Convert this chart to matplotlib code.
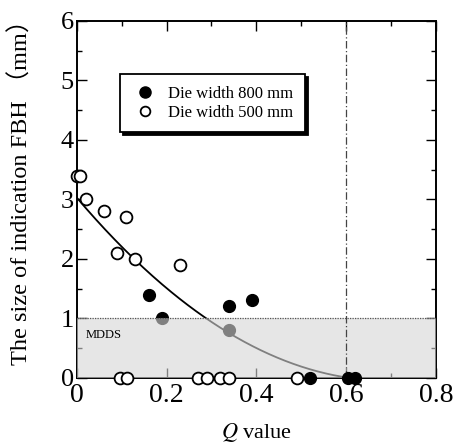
import numpy as np
import matplotlib.pyplot as plt
from matplotlib.ticker import MultipleLocator

plt.rcParams['font.family'] = ['Liberation Serif', 'Noto Sans CJK JP']
plt.rcParams['mathtext.fontset'] = 'stix'

# Die width 800 mm (filled symbols)
q_800 = [0.16, 0.19, 0.34, 0.34, 0.39, 0.52, 0.605, 0.62]
fbh_800 = [1.4, 1.0, 1.2, 0.8, 1.3, 0.0, 0.0, 0.0]

# Die width 500 mm (open symbols)
q_500 = [0.0, 0.008, 0.02, 0.06, 0.11, 0.09, 0.13, 0.23,
         0.096, 0.111, 0.27, 0.29, 0.32, 0.34, 0.49]
fbh_500 = [3.4, 3.4, 3.0, 2.8, 2.7, 2.1, 2.0, 1.9,
           0.0, 0.0, 0.0, 0.0, 0.0, 0.0, 0.0]

# quadratic trend line, drawn up to Q = 0.6
fit_coef = [6.42, -8.89, 3.03]
q_limit = 0.6
mdds = 1.0

fig = plt.figure(figsize=(4.54, 4.44), dpi=100)
ax = fig.add_axes([0.169, 0.149, 0.791, 0.804])

q_fit = np.linspace(0, q_limit, 200)
ax.plot(q_fit, np.polyval(fit_coef, q_fit), color='black', lw=1.3, zorder=2)

q8 = np.array(q_800)
f8 = np.array(fbh_800)
q5 = np.array(q_500)
f5 = np.array(fbh_500)
ms = 8.5

ax.plot(q8[f8 > 0], f8[f8 > 0], 'o', color='black', ms=ms, zorder=2)

# MDDS band over the trend line
ax.axhspan(0, mdds, color='#d6d6d6', alpha=0.6, lw=0, zorder=3)
ax.axhline(mdds, color='#555555', lw=0.9, ls=(0, (1, 1)), zorder=3)
ax.axvline(q_limit, color='#444444', lw=0.9, ls=(0, (6, 2, 1, 2)), zorder=3)
ax.text(0.02, 0.72, 'MDDS', fontsize=9, ha='left', va='center', zorder=5)

ax.plot(q5, f5, 'o', mfc='white', mec='black', mew=1.3, ms=ms,
        zorder=4, clip_on=False)
ax.plot(q8[f8 == 0], f8[f8 == 0], 'o', color='black', ms=ms,
        zorder=4, clip_on=False)

ax.set_xlim(0, 0.8)
ax.set_ylim(0, 6)
ax.xaxis.set_major_locator(MultipleLocator(0.2))
ax.xaxis.set_minor_locator(MultipleLocator(0.1))
ax.yaxis.set_major_locator(MultipleLocator(1))
ax.yaxis.set_minor_locator(MultipleLocator(0.5))
ax.tick_params(which='both', direction='in', top=True, right=True,
               labelsize=19, width=1.0, pad=2)
ax.tick_params(axis='x', labelsize=20, pad=4)
ax.tick_params(which='major', length=7)
ax.tick_params(which='minor', length=3.6)
ax.xaxis.set_major_formatter(plt.FuncFormatter(lambda v, p: '0' if v == 0 else f'{v:.1f}'))
for s in ax.spines.values():
    s.set_linewidth(1.4)

ax.set_xlabel('$Q$ value', fontsize=16)
ax.xaxis.set_label_coords(0.5, -0.122)
ax.set_ylabel('The size of indication FBH （mm）', fontsize=17.5)
ax.yaxis.set_label_coords(-0.123, 0.535)

# legend entries
h8, = ax.plot([], [], 'o', color='black', ms=8)
h5, = ax.plot([], [], 'o', mfc='white', mec='black', mew=1.3, ms=7)
leg = ax.legend([h8, h5], ['Die width 800 mm', 'Die width 500 mm'],
                loc='upper left', bbox_to_anchor=(0.12, 0.85), fontsize=12,
                frameon=True, fancybox=False, edgecolor='black', framealpha=1,
                shadow={'facecolor': 'black', 'edgecolor': 'black', 'alpha': 1},
                handlelength=1.6, handletextpad=0.6, labelspacing=0.15,
                borderpad=0.7, borderaxespad=0)
leg.get_frame().set_linewidth(1.3)
leg.set_zorder(6)

fig.savefig('out.png', dpi=100)
